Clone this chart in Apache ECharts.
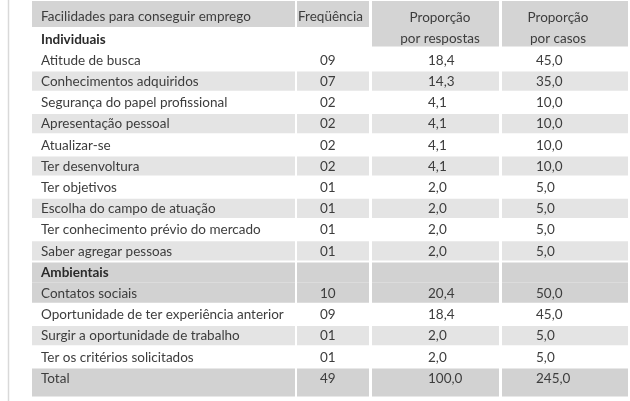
<!DOCTYPE html>
<html>
<head>
<meta charset="utf-8">
<script src="https://cdn.jsdelivr.net/npm/echarts@6/dist/echarts.min.js"></script>
<style>
  html, body { margin: 0; padding: 0; background: #fff; }
  #main { width: 630px; height: 401px; }
</style>
</head>
<body>
<div id="main"></div>
<script>
  // table content
  const headers = ['Facilidades para conseguir emprego', 'Freqüência', 'Proporção\npor respostas', 'Proporção\npor casos']
  const items = [
    'Individuais',
    'Atitude de busca',
    'Conhecimentos adquiridos',
    'Segurança do papel profissional',
    'Apresentação pessoal',
    'Atualizar-se',
    'Ter desenvoltura',
    'Ter objetivos',
    'Escolha do campo de atuação',
    'Ter conhecimento prévio do mercado',
    'Saber agregar pessoas',
    'Ambientais',
    'Contatos sociais',
    'Oportunidade de ter experiência anterior',
    'Surgir a oportunidade de trabalho',
    'Ter os critérios solicitados',
    'Total'
  ]
  const frequencia = [null, 9, 7, 2, 2, 2, 2, 1, 1, 1, 1, null, 10, 9, 1, 1, 49]
  const porRespostas = [null, 18.4, 14.3, 4.1, 4.1, 4.1, 4.1, 2.0, 2.0, 2.0, 2.0, null, 20.4, 18.4, 2.0, 2.0, 100.0]
  const porCasos = [null, 45.0, 35.0, 10.0, 10.0, 10.0, 10.0, 5.0, 5.0, 5.0, 5.0, null, 50.0, 45.0, 5.0, 5.0, 245.0]
  const groupRows = ['Individuais', 'Ambientais']

  // styling (row shading, column layout)
  const shade = ['', '', 'l', '', 'l', '', 'l', '', 'l', '', 'l', 'dt', 'db', '', 'l', '', 'dz']
  const colX = [[32, 295], [297, 369], [372, 499], [502, 628]]
  const textX = [41, 320, 428, 536]
  const LIGHT = '#e4e4e4'
  const DARK = '#d2d2d2'
  const HEAD = '#d4d4d4'
  const FONT = 'Lato, "Noto Sans", sans-serif'
  const INK = '#3d3d3d'

  const fmtInt = v => (v == null ? '' : String(v).padStart(2, '0'))
  const fmtDec = v => (v == null ? '' : v.toFixed(1).replace('.', ','))

  const rowIds = ['header'].concat(items)

  const chart = echarts.init(document.getElementById('main'), null, { renderer: 'canvas' })

  function txt(x, y, s, opts) {
    return {
      type: 'text',
      style: Object.assign({
        text: s, x: x, y: y,
        fill: INK,
        fontFamily: FONT,
        fontSize: 13.5,
        align: 'left',
        verticalAlign: 'middle'
      }, opts || {})
    }
  }

  function renderRow(params, api) {
    const i = api.value(1)
    const c = api.coord([0, i])
    const h = api.size([0, 1])[1]
    const top = c[1] - h / 2
    const bottom = c[1] + h / 2
    const children = []

    if (i === 0) {
      colX.forEach((cx, k) => {
        const yb = k < 2 ? top + 20 : bottom + h - 3
        children.push({ type: 'rect', shape: { x: cx[0], y: 1, width: cx[1] - cx[0], height: yb - 1 }, style: { fill: HEAD } })
      })
      children.push(txt(textX[0], c[1] - 0.5, headers[0]))
      children.push(txt(298, c[1] - 0.5, headers[1]))
      children.push(txt(440, c[1], headers[2], { align: 'center', verticalAlign: 'top', y: c[1] - 10.5, lineHeight: 21 }))
      children.push(txt(558, c[1], headers[3], { align: 'center', verticalAlign: 'top', y: c[1] - 10.5, lineHeight: 21 }))
      return { type: 'group', children: children }
    }

    const k = i - 1
    const s = shade[k]
    if (s) {
      let y0 = top + 1
      let y1 = bottom - 1
      if (s === 'dt') y1 = bottom
      if (s === 'db') y0 = top
      if (s === 'dz') y1 = bottom + 8
      const fill = s === 'l' ? LIGHT : DARK
      colX.forEach(cx => {
        children.push({ type: 'rect', shape: { x: cx[0], y: y0, width: cx[1] - cx[0], height: y1 - y0 }, style: { fill: fill } })
      })
    }
    const bold = groupRows.indexOf(items[k]) >= 0
    children.push(txt(textX[0], c[1] + 0.5, items[k], bold ? { fontWeight: 'bold', fill: '#2a2a2a' } : null))
    children.push(txt(textX[1], c[1] + 0.5, fmtInt(frequencia[k])))
    children.push(txt(textX[2], c[1] + 0.5, fmtDec(porRespostas[k])))
    children.push(txt(textX[3], c[1] + 0.5, fmtDec(porCasos[k])))
    return { type: 'group', children: children }
  }

  chart.setOption({
    animation: false,
    grid: { left: 0, right: 0, top: 7, height: 381.6 },
    xAxis: { type: 'value', min: 0, max: 630, show: false },
    yAxis: { type: 'category', data: rowIds, inverse: true, show: false },
    graphic: [{
      type: 'line',
      shape: { x1: 8.5, y1: 0, x2: 8.5, y2: 401 },
      style: { stroke: '#d9d9d9', lineWidth: 1.5 }
    }],
    series: [{
      type: 'custom',
      renderItem: renderRow,
      encode: { x: 0, y: 1 },
      data: rowIds.map((r, i) => [0, i])
    }]
  })
</script>
</body>
</html>
